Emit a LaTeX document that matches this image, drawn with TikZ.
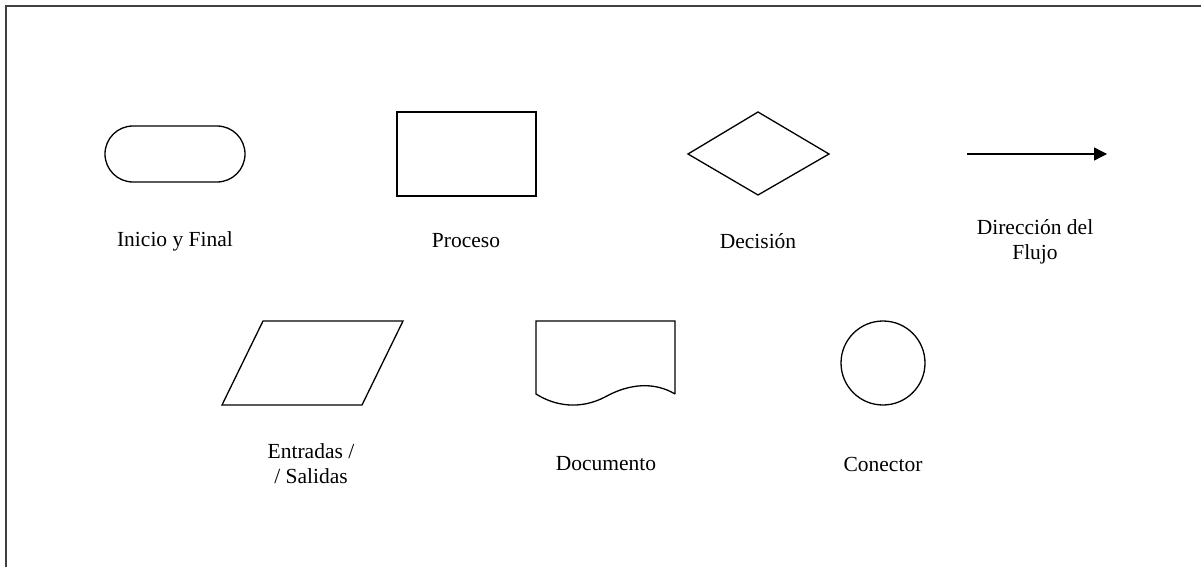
\documentclass[tikz,border=0pt]{standalone}
\usepackage{fontspec}
\setmainfont{Liberation Serif}
\usetikzlibrary{arrows.meta}
\begin{document}
\begin{tikzpicture}[x=1pt,y=-1pt,
  shp/.style={draw=black,line width=1.3pt},
  lbl/.style={font=\fontsize{21.5}{25}\selectfont,align=center,inner sep=0pt}]
\useasboundingbox (0,0) rectangle (1201,567);
\draw[line width=2pt,draw=black!75] (6,567) -- (6,6) -- (1201,6);
% Inicio y Final
\draw[shp,rounded corners=28pt] (105,126) rectangle (245,182);
\node[lbl] (l1) at (175,241) {Inicio y Final};
% Proceso
\draw[shp] (397,112) rectangle (536,196);
\node[lbl] (l2) at (466,241) {Proceso};
% Decision
\draw[shp] (688,154) -- (758,112) -- (829,154) -- (758,195) -- cycle;
\node[lbl] (l3) at (758,241) {Decisión};
% Flujo
\coordinate (a1) at (967,154);
\coordinate (a2) at (1107,154);
\draw[shp,-{Triangle[length=13pt,width=13pt]}] (a1) -- (a2);
\node[lbl] (l4) at (1035,242) {Dirección del\\Flujo};
% Entradas
\draw[shp] (263,321) -- (403,321) -- (362,405) -- (222,405) -- cycle;
\node[lbl] (l5) at (311,464) {Entradas /\\/ Salidas};
% Documento
\draw[shp] (675,394) -- (675,321) -- (536,321) -- (536,394)
  .. controls (555,406) and (580,410) .. (605,397)
  .. controls (630,383) and (655,382) .. (675,394);
\node[lbl] (l6) at (606,464) {Documento};
% Conector
\draw[shp] (883,363) circle[radius=42];
\node[lbl] (l7) at (883,464) {Conector};
\end{tikzpicture}
\end{document}
